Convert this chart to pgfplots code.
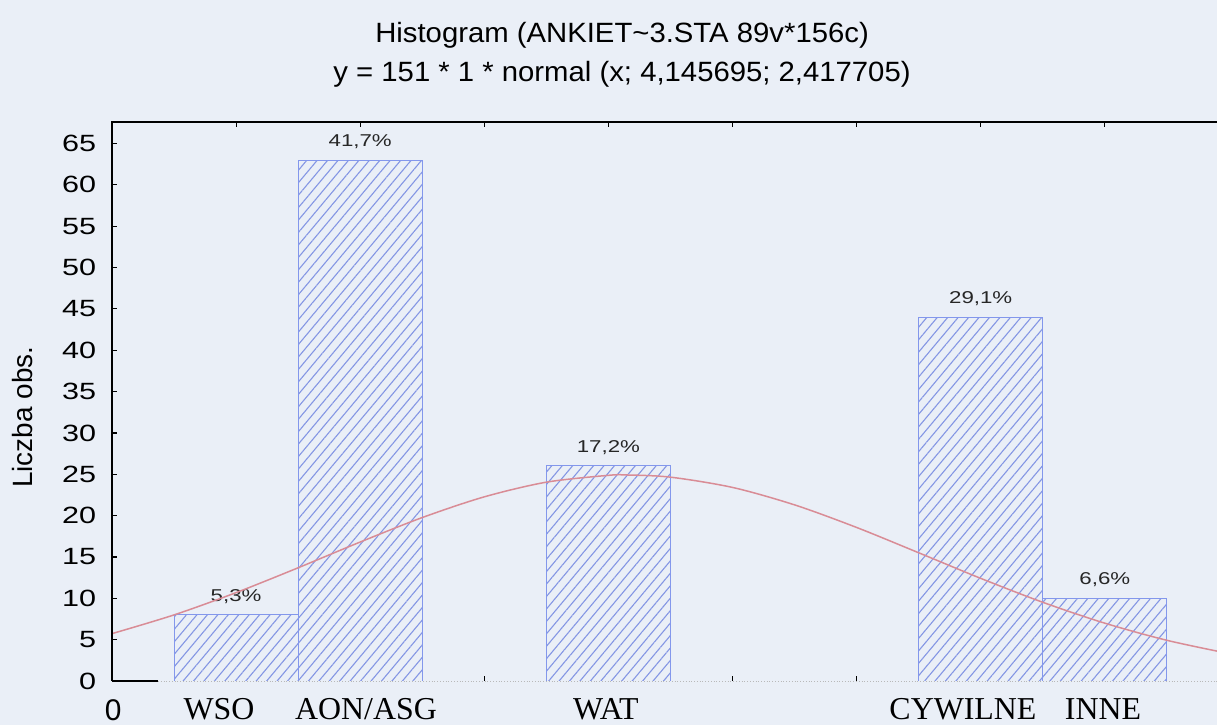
\documentclass[border=0pt]{standalone}
\usepackage{pgfplots}
\pgfplotsset{compat=1.18}
\usetikzlibrary{patterns.meta}
\usepackage{fontspec}
\setmainfont{Liberation Sans}
\newfontfamily\widesans[FakeStretch=1.3]{Liberation Sans}
\newfontfamily\titlesans[FakeStretch=1.05]{Liberation Sans}
\newfontfamily\serifx{Liberation Serif}

\definecolor{bg}{HTML}{EAEFF7}
\definecolor{hatch}{HTML}{8496E4}
\definecolor{barline}{HTML}{8397EC}
\definecolor{curve}{HTML}{D98C96}

\begin{document}
\begin{tikzpicture}
\path[use as bounding box, fill=bg] (0,0) rectangle (608.5bp,362.5bp);
\begin{axis}[
    at={(56bp,22bp)}, anchor=south west,
    scale only axis,
    width=552.5bp, height=279.5bp,
    xmin=0, xmax=8.904,
    ymin=0, ymax=67.6,
    axis line style={draw=none},
    clip mode=individual,
    xtick={1,...,8}, xticklabels={,,,,,,,},
    ytick={0,5,...,65},
    ytick pos=left,
    tick align=inside,
    major tick length=2.5bp,
    every tick/.style={black, line width=0.6bp},
    /pgf/number format/assume math mode=true,
    yticklabel style={font=\widesans\fontsize{11.8}{12}\selectfont, anchor=east, xshift=-4.4bp},
]
\addplot[ybar, bar width=1, draw=barline, line width=0.5bp, fill=bg,
    postaction={pattern={Lines[angle=50,distance=4bp,line width=0.55bp]}, pattern color=hatch},
    point meta=explicit symbolic, nodes near coords,
    every node near coord/.style={font=\widesans\fontsize{8.6}{9}\selectfont, text=black!85, anchor=south, yshift=2bp}]
    coordinates {(1,8) [5,3\%] (2,63) [41,7\%] (4,26) [17,2\%] (7,44) [29,1\%] (8,10) [6,6\%]};
\addplot[curve, line width=0.75bp, smooth, no marks] coordinates {
    (0,5.728) (0.5,7.993) (1,10.688) (1.5,13.692) (2,16.806) (2.5,19.765)
    (3,22.270) (3.5,24.044) (4,24.871) (4.146,24.916) (4.5,24.650) (5,23.408)
    (5.5,21.298) (6,18.568) (6.5,15.508) (7,12.412) (7.5,9.518) (8,6.992)
    (8.5,4.922) (9,3.320)};
% frame: left, top, short bottom piece, faint rest
\draw[black, line width=1bp] (rel axis cs:0,0) -- (rel axis cs:0,1) -- (rel axis cs:1,1);
\draw[black, line width=1bp] (rel axis cs:0,0) -- (axis cs:0.37,0);
\draw[gray!55, densely dotted, line width=0.4bp] (axis cs:0.37,0) -- (rel axis cs:1,0);
% titles and labels
\node[font=\titlesans\fontsize{14}{15}\selectfont] at (axis cs:4.11,78.1) {Histogram (ANKIET\textasciitilde 3.STA 89v*156c)};
\node[font=\titlesans\fontsize{14}{15}\selectfont] at (axis cs:4.11,73.4) {y = 151 * 1 * normal (x; 4,145695; 2,417705)};
\node[font=\fontsize{14}{15}\selectfont, rotate=90] at (axis cs:-0.717,31.9) {Liczba obs.};
\node[font=\fontsize{15}{16}\selectfont, anchor=base] at (axis cs:0.01,0) [yshift=-19.5bp] {0};
\node[font=\serifx\fontsize{16}{17}\selectfont, anchor=base] at (axis cs:0.862,0) [yshift=-19bp] {WSO};
\node[font=\serifx\fontsize{16}{17}\selectfont, anchor=base] at (axis cs:2.047,0) [yshift=-19bp] {AON/ASG};
\node[font=\serifx\fontsize{16}{17}\selectfont, anchor=base] at (axis cs:3.98,0) [yshift=-19bp] {WAT};
\node[font=\serifx\fontsize{16}{17}\selectfont, anchor=base] at (axis cs:6.857,0) [yshift=-19bp] {CYWILNE};
\node[font=\serifx\fontsize{16}{17}\selectfont, anchor=base] at (axis cs:7.985,0) [yshift=-19bp] {INNE};
\end{axis}
\end{tikzpicture}
\end{document}
